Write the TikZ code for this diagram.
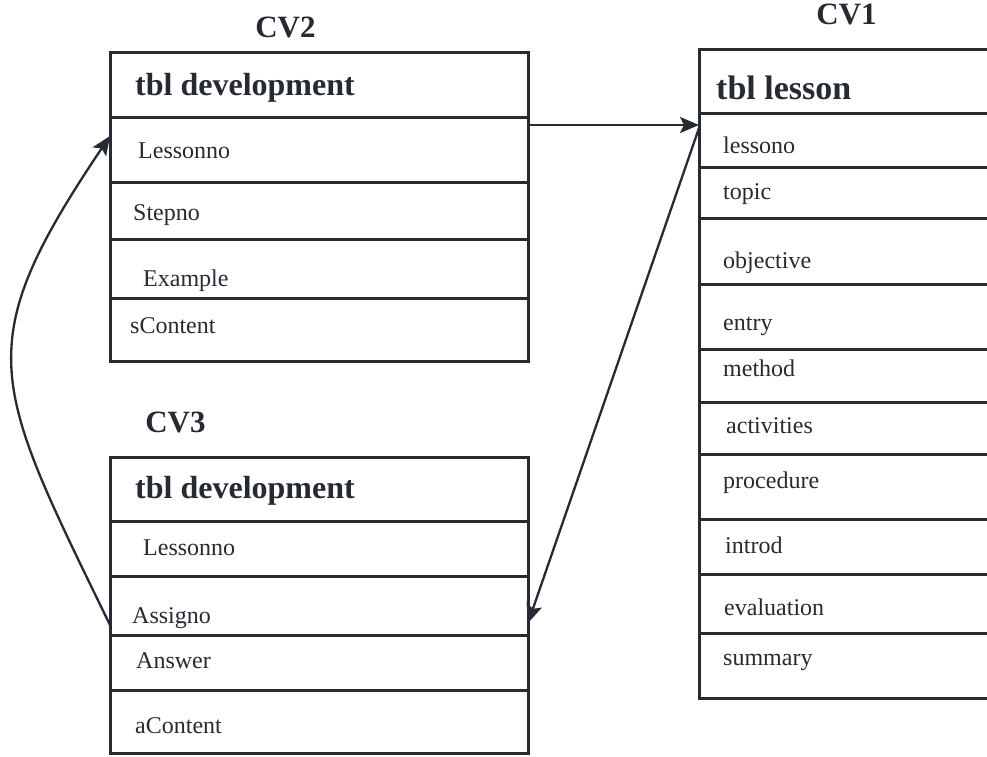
\documentclass[tikz,border=0pt]{standalone}
\usepackage{fontspec}
\setmainfont{LiberationSerif}[
  Extension=.ttf,
  UprightFont=*-Regular,
  BoldFont=*-Bold,
  ItalicFont=*-Italic,
  BoldItalicFont=*-BoldItalic]
\usetikzlibrary{arrows.meta,calc}
\definecolor{ink}{RGB}{38,42,50}
\begin{document}
\begin{tikzpicture}[x=1pt,y=-1pt,
  cell/.style={draw=ink, line width=3pt, outer sep=0pt, inner sep=0pt,
    anchor=north west, rectangle},
  field/.style={anchor=base west, inner sep=0pt, text=ink,
    font=\fontsize{24}{28}\selectfont},
  head/.style={anchor=base west, inner sep=0pt, text=ink,
    font=\fontsize{32}{36}\selectfont\bfseries},
  title/.style={anchor=base, inner sep=0pt, text=ink,
    font=\fontsize{31}{35}\selectfont\bfseries},
  arr/.style={draw=ink, line width=2.3pt,
    -{Stealth[length=19pt,width=16pt,inset=4pt]}}]
\clip (0,0) rectangle (987,756);
\fill[white] (0,0) rectangle (987,756);

% ---- CV2 : tbl development ----
\node[title] (t2) at (285.5,37) {CV2};
\node[cell, minimum width=418pt, minimum height=65pt] (d2h) at (110,52) {};
\node[cell, minimum width=418pt, minimum height=65pt] (d2a) at (110,117) {};
\node[cell, minimum width=418pt, minimum height=57pt] (d2b) at (110,182) {};
\node[cell, minimum width=418pt, minimum height=59pt] (d2c) at (110,239) {};
\node[cell, minimum width=418pt, minimum height=63pt] (d2d) at (110,298) {};
\node[head]  (d2hx) at (135,95)  {tbl development};
\node[field] (d2ax) at (138,158) {Lessonno};
\node[field] (d2bx) at (133,220) {Stepno};
\node[field] (d2cx) at (143,286) {Example};
\node[field] (d2dx) at (130,333) {sContent};

% ---- CV1 : tbl lesson ----
\node[title] (t1) at (846.5,24) {CV1};
\node[cell, minimum width=311pt, minimum height=64pt] (l1h) at (699,49) {};
\node[cell, minimum width=311pt, minimum height=54pt] (l1a) at (699,113) {};
\node[cell, minimum width=311pt, minimum height=51pt] (l1b) at (699,167) {};
\node[cell, minimum width=311pt, minimum height=66pt] (l1c) at (699,218) {};
\node[cell, minimum width=311pt, minimum height=65pt] (l1d) at (699,284) {};
\node[cell, minimum width=311pt, minimum height=53pt] (l1e) at (699,349) {};
\node[cell, minimum width=311pt, minimum height=52pt] (l1f) at (699,402) {};
\node[cell, minimum width=311pt, minimum height=65pt] (l1g) at (699,454) {};
\node[cell, minimum width=311pt, minimum height=55pt] (l1i) at (699,519) {};
\node[cell, minimum width=311pt, minimum height=59pt] (l1j) at (699,574) {};
\node[cell, minimum width=311pt, minimum height=65pt] (l1k) at (699,633) {};
\node[head, font=\fontsize{34}{38}\selectfont\bfseries] (l1hx) at (716,99) {tbl lesson};
\node[field] (l1ax) at (723,153) {lessono};
\node[field] (l1bx) at (723,199) {topic};
\node[field] (l1cx) at (723,268) {objective};
\node[field] (l1dx) at (723,330) {entry};
\node[field] (l1ex) at (723,376) {method};
\node[field] (l1fx) at (726,433) {activities};
\node[field] (l1gx) at (723,488) {procedure};
\node[field] (l1ix) at (725,553) {introd};
\node[field] (l1jx) at (724,615) {evaluation};
\node[field] (l1kx) at (723,665) {summary};

% ---- CV3 : tbl development ----
\node[title] (t3) at (175.5,432) {CV3};
\node[cell, minimum width=418pt, minimum height=64pt] (d3h) at (110,457) {};
\node[cell, minimum width=418pt, minimum height=55pt] (d3a) at (110,521) {};
\node[cell, minimum width=418pt, minimum height=59pt] (d3b) at (110,576) {};
\node[cell, minimum width=418pt, minimum height=55pt] (d3c) at (110,635) {};
\node[cell, minimum width=418pt, minimum height=63pt] (d3d) at (110,690) {};
\node[head]  (d3hx) at (135,498) {tbl development};
\node[field] (d3ax) at (143,555) {Lessonno};
\node[field] (d3bx) at (132,623) {Assigno};
\node[field] (d3cx) at (136,668) {Answer};
\node[field] (d3dx) at (135,733) {aContent};

% ---- links between the tables ----
\draw[arr] ($(d2a.north east)+(0,8)$) -- ($(l1a.north west)+(0,12)$);
\draw[arr] ($(l1a.north west)+(0,15)$) -- ($(d3b.south east)+(0,-12)$);
\draw[arr] ($(d3b.south west)+(0,-10)$)
  .. controls (-8,382) and (-32,347) .. ($(d2a.north west)+(0,19)$);
\end{tikzpicture}
\end{document}
